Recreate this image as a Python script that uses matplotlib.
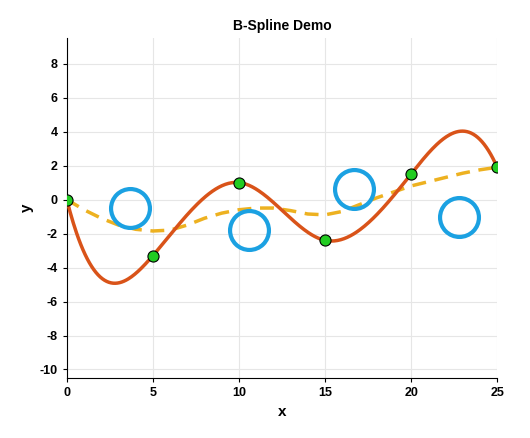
import numpy as np
import matplotlib
matplotlib.use("Agg")
import matplotlib.pyplot as plt

# 数据点
x_pts = [0, 5, 10, 15, 20, 25]
y_pts = [0, -3.3, 1.0, -2.4, 1.5, 1.9]
# 端点斜率（夹持样条）
end_slopes = [-4.0, -2.3]

# 控制点（蓝色圆圈）
ctrl_x = [3.7, 10.6, 16.7, 22.8]
ctrl_y = [-0.5, -1.8, 0.6, -1.0]

# 近似曲线（黄色虚线，读自图片）
approx_x = [0, 1, 2, 3, 4, 5, 6, 7, 8, 9, 10, 11, 12, 13, 14, 15, 16, 17, 18, 19, 20, 21, 22, 23, 24, 25]
approx_y = [0, -0.6, -1.1, -1.5, -1.75, -1.85, -1.8, -1.5, -1.1, -0.8, -0.6, -0.5, -0.5, -0.65, -0.85, -0.9, -0.7, -0.3, 0.1, 0.45, 0.8, 1.05, 1.3, 1.55, 1.75, 1.9]


def cubic_spline(x, y, xs, d0, dn):
    """夹持三次样条插值"""
    x = np.asarray(x, float); y = np.asarray(y, float)
    n = len(x); h = np.diff(x)
    A = np.zeros((n, n)); b = np.zeros(n)
    for i in range(1, n - 1):
        A[i, i - 1] = h[i - 1]; A[i, i] = 2 * (h[i - 1] + h[i]); A[i, i + 1] = h[i]
        b[i] = 6 * ((y[i + 1] - y[i]) / h[i] - (y[i] - y[i - 1]) / h[i - 1])
    A[0, 0] = 2 * h[0]; A[0, 1] = h[0]
    b[0] = 6 * ((y[1] - y[0]) / h[0] - d0)
    A[-1, -2] = h[-1]; A[-1, -1] = 2 * h[-1]
    b[-1] = 6 * (dn - (y[-1] - y[-2]) / h[-1])
    M = np.linalg.solve(A, b)
    ys = np.empty_like(xs)
    for k, t in enumerate(xs):
        i = min(max(np.searchsorted(x, t, side="right") - 1, 0), n - 2)
        a = x[i + 1] - t; c = t - x[i]
        ys[k] = (M[i] * a**3 + M[i + 1] * c**3) / (6 * h[i]) \
            + (y[i] / h[i] - M[i] * h[i] / 6) * a + (y[i + 1] / h[i] - M[i + 1] * h[i] / 6) * c
    return ys


plt.rcParams["font.family"] = ["Liberation Sans", "DejaVu Sans"]
plt.rcParams["axes.unicode_minus"] = False
fig, ax = plt.subplots(figsize=(5.30, 4.38), dpi=100)
fig.subplots_adjust(left=0.126, right=0.938, top=0.913, bottom=0.137)

xs = np.linspace(0, 25, 400)
ax.plot(xs, cubic_spline(x_pts, y_pts, xs, *end_slopes), color="#D95319", lw=2.5, zorder=3)
ax.plot(approx_x, approx_y, color="#EDB120", lw=2.5, ls=(0, (4, 2.5)), zorder=2)
ax.plot(x_pts, y_pts, "o", ms=8, mfc="#22CC22", mec="black", mew=0.8, zorder=4)
ax.plot(ctrl_x, ctrl_y, "o", ms=28, mfc="none", mec="#1BA1E2", mew=3, zorder=4)

ax.set_xlim(0, 25)
ax.set_ylim(-10.5, 9.5)
ax.set_xticks(range(0, 26, 5))
ax.set_yticks(range(-10, 9, 2))
ax.grid(color="#E6E6E6", lw=0.8)
ax.set_axisbelow(True)
for s in ["top", "right"]:
    ax.spines[s].set_visible(False)
ax.tick_params(labelsize=9, length=3)
for lbl in ax.get_xticklabels() + ax.get_yticklabels():
    lbl.set_fontweight("bold")
ax.set_xlabel("x", fontsize=11, fontweight="bold")
ax.set_ylabel("y", fontsize=11, fontweight="bold")
ax.set_title("B-Spline Demo", fontsize=10, fontweight="bold")

fig.savefig("out.png", dpi=100)
